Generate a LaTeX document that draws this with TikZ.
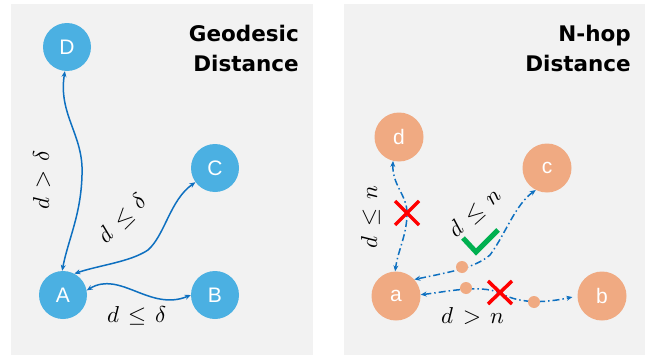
\documentclass[tikz,border=0pt]{standalone}
\usepackage{fontspec}
\usepackage{unicode-math}
\setmathfont{Latin Modern Math}
\newfontfamily\titlefont{DejaVu Sans}
\newfontfamily\nodefont{Liberation Sans}
\usetikzlibrary{arrows.meta}
\definecolor{bgpanel}{RGB}{242,242,242}
\definecolor{nodeblue}{RGB}{75,176,226}
\definecolor{nodeorange}{RGB}{240,170,130}
\definecolor{edgeblue}{RGB}{14,112,192}
\definecolor{xred}{RGB}{255,0,0}
\definecolor{okgreen}{RGB}{0,176,80}
\tikzset{
  panel/.style={fill=bgpanel, draw=none},
  bnode/.style={circle, fill=nodeblue, minimum size=48pt, inner sep=0pt, text=white, font=\nodefont\fontsize{21}{25}\selectfont},
  onode/.style={circle, fill=nodeorange, minimum size=49pt, inner sep=0pt, text=white, font=\nodefont\fontsize{21}{25}\selectfont},
  tinydot/.style={circle, fill=nodeorange, minimum size=12pt, inner sep=0pt},
  title/.style={align=right, anchor=north east, inner sep=0pt, font=\titlefont\bfseries\fontsize{21.5}{30}\selectfont},
  lbl/.style={font=\fontsize{23}{27}\selectfont, inner sep=0pt},
  solidedge/.style={draw=edgeblue, line width=1.5pt, {Stealth[length=6pt,width=5pt]}-{Stealth[length=6pt,width=5pt]}},
  dashedge/.style={draw=edgeblue, line width=1.5pt, dash pattern=on 7pt off 3pt on 1.5pt off 3pt, {Stealth[length=6pt,width=5pt]}-{Stealth[length=6pt,width=5pt]}},
  crossmark/.style={draw=xred, line width=3.5pt},
  checkmark/.style={draw=okgreen, line width=5pt}
}
\begin{document}
\begin{tikzpicture}[x=1pt,y=-1pt]
\useasboundingbox (0,0) rectangle (651,356);
% panels
\fill[panel] (11,4) rectangle (313,355);
\fill[panel] (344,4) rectangle (645,355);
% titles
\node[title] (t1) at (299,25) {Geodesic\\Distance};
\node[title] (t2) at (631,25) {N-hop\\Distance};
% left nodes
\node[bnode] (D) at (67,47) {D};
\node[bnode] (C) at (215,168) {C};
\node[bnode] (A) at (63,295) {A};
\node[bnode] (B) at (215,295) {B};
% left edges
\draw[solidedge] (D.-95) .. controls (58,115) and (84,135) .. (82,175) .. controls (81,215) and (68,240) .. (A.92);
\draw[solidedge] (C.-144) .. controls (170,200) and (165,235) .. (148,250) .. controls (130,262) and (100,265) .. (A.62);
\draw[solidedge] (A.11) .. controls (120,270) and (150,312) .. (B.west);
% left labels
\node[lbl, rotate=90] (l1) at (42,180) {$d\mskip2mu>\mskip2mu\delta$};
\node[lbl, rotate=45] (l2) at (123,219) {$d\mskip2mu\le\mskip2mu\delta$};
\node[lbl] (l3) at (137,316) {$d\mskip2mu\le\mskip2mu\delta$};
% right nodes
\node[onode] (d) at (399,137) {d};
\node[onode] (c) at (547,168) {c};
\node[onode] (a) at (396,296) {a};
\node[onode] (b) at (602,296) {b};
% right edges
\draw[dashedge] (d.-104) .. controls (392,185) and (407,195) .. (407,213) .. controls (407,235) and (398,250) .. (a.92);
\draw[dashedge] (c.-117) .. controls (515,205) and (505,235) .. (490,255) .. controls (475,268) and (450,272) .. (a.42);
\draw[dashedge, shorten >=5pt] (a.3) .. controls (445,292) and (480,284) .. (500,293) .. controls (515,301) and (535,305) .. (b.west);
% dots
\node[tinydot] (p1) at (462,267) {};
\node[tinydot] (p2) at (466,288) {};
\node[tinydot] (p3) at (534,302) {};
% marks
\draw[crossmark] (395,201) -- (419,225) (395,225) -- (419,201);
\draw[crossmark] (488,281) -- (512,304) (488,304) -- (512,281);
\draw[checkmark] (463,238) -- (476,252) -- (498,230);
% right labels
\node[lbl, rotate=90] (r1) at (371,217) {$d\mskip2mu\le\mskip2mu n$};
\node[lbl, rotate=42] (r2) at (475,213) {$d\mskip2mu\le\mskip2mu n$};
\node[lbl] (r3) at (473,316) {$d\mskip2mu>\mskip2mu n$};
\end{tikzpicture}
\end{document}
